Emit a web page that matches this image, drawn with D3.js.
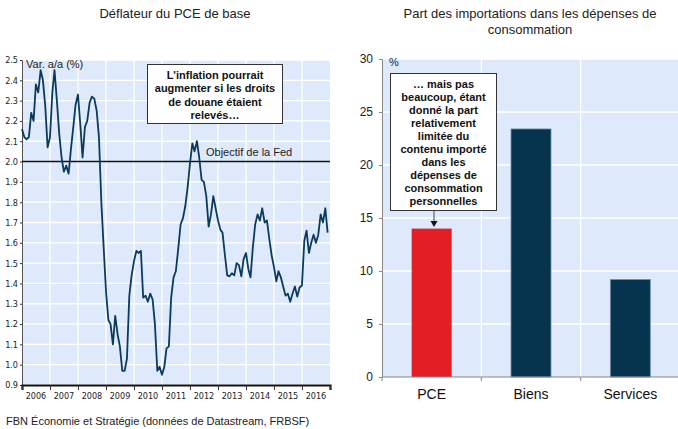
<!DOCTYPE html>
<meta charset="utf-8">
<style>
  body { margin: 0; background: #fff; }
  svg { display: block; font-family: "Liberation Sans", Arial, sans-serif; }
</style>
<body>
<script src="https://d3js.org/d3.v7.min.js"></script>
<script>
  // PCE de base, a/a (%), mensuel depuis janv. 2006
  const pceStart = new Date(2006, 0, 1);
  const pceValues = [
    2.16, 2.12, 2.11, 2.12, 2.24, 2.20, 2.38, 2.34, 2.45, 2.40, 2.27, 2.07,
    2.12, 2.34, 2.45, 2.30, 2.14, 2.02, 1.95, 1.98, 1.94, 2.06, 2.17, 2.28,
    2.33, 2.18, 2.02, 2.17, 2.20, 2.29, 2.32, 2.31, 2.25, 2.12, 1.80, 1.58,
    1.36, 1.22, 1.20, 1.10, 1.24, 1.15, 1.09, 0.97, 0.97, 1.03, 1.34, 1.44,
    1.51, 1.56, 1.55, 1.56, 1.33, 1.34, 1.31, 1.35, 1.32, 1.20, 0.97, 0.99,
    0.95, 0.99, 1.08, 1.09, 1.33, 1.43, 1.46, 1.57, 1.69, 1.72, 1.78, 1.87,
    1.99, 2.09, 2.05, 2.10, 2.02, 1.91, 1.90, 1.83, 1.68, 1.74, 1.83, 1.77,
    1.71, 1.665, 1.65, 1.54, 1.44, 1.435, 1.45, 1.44, 1.50, 1.49, 1.435, 1.52,
    1.55, 1.47, 1.43, 1.58, 1.69, 1.74, 1.71, 1.77, 1.70, 1.71, 1.62, 1.54,
    1.48, 1.41, 1.46, 1.43, 1.385, 1.34, 1.35, 1.31, 1.35, 1.385, 1.335, 1.38,
    1.39, 1.61, 1.66, 1.55, 1.60, 1.64, 1.60, 1.64, 1.74, 1.70, 1.77, 1.65
  ];
  const pceTicks = [0.9, 1.0, 1.1, 1.2, 1.3, 1.4, 1.5, 1.6, 1.7, 1.8, 1.9, 2.0, 2.1, 2.2, 2.3, 2.4, 2.5];
  const years = [2006, 2007, 2008, 2009, 2010, 2011, 2012, 2013, 2014, 2015, 2016];
  const fedTarget = 2.0;

  // Part des importations (%)
  const categories = ["PCE", "Biens", "Services"];
  const importShare = [14.0, 23.4, 9.2];
  const shareTicks = [0, 5, 10, 15, 20, 25, 30];

  const W = 678, H = 429;
  const bg = "#deeafb";
  const navy = "#06344f";

  const svg = d3.select("body").append("svg")
    .attr("width", W).attr("height", H);

  // ---------- panneau gauche ----------
  const L = { x0: 22, x1: 330, y0: 60, y1: 385 };
  const data = pceValues.map((v, i) => ({ date: d3.timeMonth.offset(pceStart, i), v: v }));

  const x = d3.scaleTime()
    .domain([new Date(2006, 0, 1), new Date(2017, 0, 1)])
    .range([L.x0, L.x1]);
  const y = d3.scaleLinear().domain([0.9, 2.5]).range([L.y1, L.y0]);

  const left = svg.append("g");
  left.append("rect")
    .attr("x", L.x0).attr("y", L.y0)
    .attr("width", L.x1 - L.x0).attr("height", L.y1 - L.y0)
    .attr("fill", bg);

  // grille
  left.selectAll(".hg").data(pceTicks).join("line")
    .attr("x1", L.x0).attr("x2", L.x1)
    .attr("y1", d => y(d)).attr("y2", d => y(d))
    .attr("stroke", "#fff").attr("stroke-width", 1.3);
  left.selectAll(".vg").data(years.slice(1)).join("line")
    .attr("x1", d => x(new Date(d, 0, 1))).attr("x2", d => x(new Date(d, 0, 1)))
    .attr("y1", L.y0).attr("y2", L.y1)
    .attr("stroke", "#fff").attr("stroke-width", 1.3);

  // axes
  const narrow = '"Liberation Sans Narrow", "DejaVu Sans Condensed", sans-serif';
  const yAxis = left.append("g")
    .attr("transform", `translate(${L.x0},0)`)
    .call(d3.axisLeft(y).tickValues(pceTicks).tickFormat(d3.format(".1f")).tickSize(2).tickPadding(2));
  yAxis.select(".domain").attr("stroke", "#555");
  yAxis.selectAll(".tick line").attr("stroke", "#333");
  yAxis.selectAll("text").attr("font-family", narrow).attr("font-size", 9).attr("fill", "#222");

  const xAxis = left.append("g")
    .attr("transform", `translate(0,${L.y1})`)
    .call(d3.axisBottom(x)
      .tickValues(years.map(d => new Date(d, 0, 1)).concat([new Date(2017, 0, 1)]))
      .tickFormat("").tickSize(5));
  xAxis.select(".domain").attr("stroke", "#111").attr("stroke-width", 2.2);
  xAxis.selectAll(".tick line").attr("stroke", "#333");
  left.selectAll(".yl").data(years).join("text")
    .attr("x", d => (x(new Date(d, 0, 1)) + x(new Date(d + 1, 0, 1))) / 2)
    .attr("y", 399)
    .attr("text-anchor", "middle")
    .attr("font-family", narrow).attr("font-size", 9).attr("fill", "#222")
    .text(d => d);

  // objectif de la Fed
  left.append("line")
    .attr("x1", L.x0).attr("x2", L.x1)
    .attr("y1", y(fedTarget)).attr("y2", y(fedTarget))
    .attr("stroke", "#111").attr("stroke-width", 1.6);
  left.append("text")
    .attr("x", 206).attr("y", y(fedTarget) - 6)
    .attr("font-size", 11).attr("fill", "#222")
    .text("Objectif de la Fed");

  // courbe
  left.append("path")
    .datum(data)
    .attr("d", d3.line().x(d => x(d.date)).y(d => y(d.v)))
    .attr("fill", "none").attr("stroke", "#0b3a5b").attr("stroke-width", 1.8)
    .attr("stroke-linejoin", "round");

  left.append("text")
    .attr("x", 26).attr("y", 68)
    .attr("font-size", 11).attr("fill", "#222")
    .text("Var. a/a (%)");

  // encadré gauche
  left.append("rect")
    .attr("x", 147.5).attr("y", 64.5).attr("width", 135).attr("height", 59)
    .attr("fill", "#fff").attr("stroke", "#333").attr("stroke-width", 1);
  const noteL = ["L'inflation pourrait", "augmenter si les droits", "de douane étaient", "relevés…"];
  left.append("g").selectAll("text").data(noteL).join("text")
    .attr("x", 215).attr("y", (d, i) => 79 + i * 13.4)
    .attr("text-anchor", "middle").attr("font-size", 11).attr("font-weight", "bold")
    .attr("fill", "#111").text(d => d);

  left.append("text")
    .attr("x", 175).attr("y", 18)
    .attr("text-anchor", "middle").attr("font-size", 13).attr("fill", "#222")
    .text("Déflateur du PCE de base");

  // ---------- panneau droit ----------
  const R = { x0: 382, x1: 680, y0: 59, y1: 377 };
  const xb = d3.scaleBand().domain(categories).range([R.x0, R.x1]).paddingInner(0).paddingOuter(0);
  const yb = d3.scaleLinear().domain([0, 30]).range([R.y1, R.y0]);

  const right = svg.append("g");
  right.append("rect")
    .attr("x", R.x0).attr("y", R.y0)
    .attr("width", R.x1 - R.x0).attr("height", R.y1 - R.y0)
    .attr("fill", bg);
  right.selectAll(".hg").data(shareTicks.slice(1)).join("line")
    .attr("x1", R.x0).attr("x2", R.x1)
    .attr("y1", d => yb(d)).attr("y2", d => yb(d))
    .attr("stroke", "#fff").attr("stroke-width", 1.3);
  right.selectAll(".vg").data(categories.slice(1)).join("line")
    .attr("x1", d => xb(d)).attr("x2", d => xb(d))
    .attr("y1", R.y0).attr("y2", R.y1)
    .attr("stroke", "#fff").attr("stroke-width", 1.3);

  const barW = 40;
  right.selectAll(".bar").data(categories).join("rect")
    .attr("x", d => xb(d) + xb.bandwidth() / 2 - barW / 2)
    .attr("y", (d, i) => yb(importShare[i]))
    .attr("width", barW)
    .attr("height", (d, i) => yb(0) - yb(importShare[i]))
    .attr("fill", (d, i) => i === 0 ? "#e31e24" : navy)
    .attr("stroke", (d, i) => i === 0 ? "none" : "#7590a8")
    .attr("stroke-width", 0.8);

  const ybAxis = right.append("g")
    .attr("transform", `translate(${R.x0},0)`)
    .call(d3.axisLeft(yb).tickValues(shareTicks).tickSize(3).tickPadding(6));
  ybAxis.select(".domain").attr("stroke", "#888");
  ybAxis.selectAll(".tick line").attr("stroke", "#888");
  ybAxis.selectAll("text").attr("font-size", 12).attr("fill", "#222");

  const xbAxis = right.append("g")
    .attr("transform", `translate(0,${R.y1})`);
  xbAxis.append("line").attr("x1", R.x0).attr("x2", R.x1).attr("stroke", "#888").attr("stroke-width", 1.2);
  xbAxis.selectAll(".tk").data(categories).join("line")
    .attr("x1", d => xb(d)).attr("x2", d => xb(d))
    .attr("y1", 0).attr("y2", 4).attr("stroke", "#888");
  xbAxis.selectAll(".lb").data(categories).join("text")
    .attr("x", d => xb(d) + xb.bandwidth() / 2).attr("y", 22)
    .attr("text-anchor", "middle").attr("font-size", 14).attr("fill", "#111")
    .text(d => d);

  right.append("text")
    .attr("x", 389).attr("y", 66).attr("font-size", 11).attr("fill", "#222").text("%");

  // encadré droit + flèche
  const boxCx = 443.5;
  right.append("line")
    .attr("x1", 434).attr("x2", 434).attr("y1", 211).attr("y2", 222)
    .attr("stroke", "#444").attr("stroke-width", 1);
  right.append("path")
    .attr("d", "M430.5,221 L437.5,221 L434,227 Z").attr("fill", "#111");
  right.append("rect")
    .attr("x", 390.5).attr("y", 73.5).attr("width", 106).attr("height", 137)
    .attr("fill", "#fff").attr("stroke", "#333").attr("stroke-width", 1);
  const noteR = ["… mais pas", "beaucoup, étant", "donné la part", "relativement", "limitée du",
    "contenu importé", "dans les", "dépenses de", "consommation", "personnelles"];
  right.append("g").selectAll("text").data(noteR).join("text")
    .attr("x", boxCx).attr("y", (d, i) => 87.5 + i * 13.05)
    .attr("text-anchor", "middle").attr("font-size", 11).attr("font-weight", "bold")
    .attr("fill", "#111").text(d => d);

  right.append("g").selectAll("text")
    .data(["Part des importations dans les dépenses de", "consommation"]).join("text")
    .attr("x", 530).attr("y", (d, i) => 18 + i * 16)
    .attr("text-anchor", "middle").attr("font-size", 13).attr("fill", "#222")
    .text(d => d);

  svg.append("text")
    .attr("x", 6).attr("y", 425)
    .attr("font-size", 11).attr("fill", "#222")
    .text("FBN Économie et Stratégie (données de Datastream, FRBSF)");
</script>
</body>
